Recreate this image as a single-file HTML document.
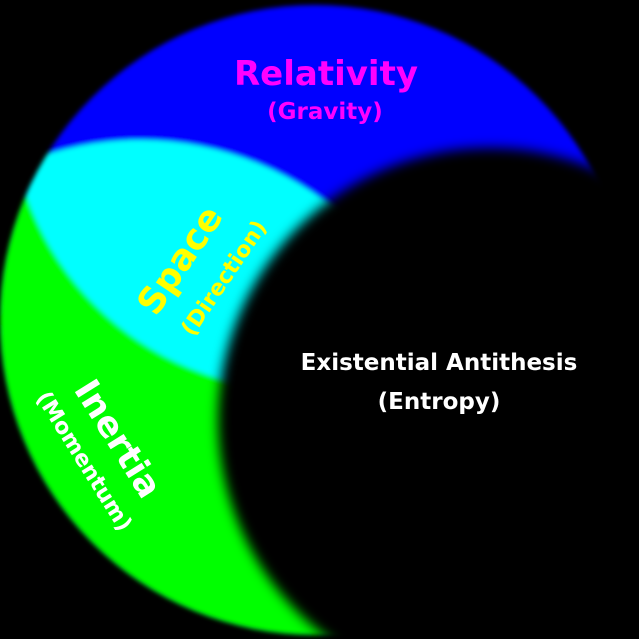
<!DOCTYPE html>
<html><head><style>html,body{margin:0;background:#000;overflow:hidden;width:639px;height:639px}svg{display:block}</style></head><body>
<svg width="639" height="639" viewBox="0 0 639 639" xmlns="http://www.w3.org/2000/svg">
<defs>
<clipPath id="outer"><circle cx="315" cy="320" r="315"/></clipPath>
<clipPath id="c1"><circle cx="140" cy="450" r="310"/></clipPath>
<filter id="b" x="-20%" y="-20%" width="140%" height="140%"><feGaussianBlur stdDeviation="2.5"/></filter>
<filter id="b2" x="-20%" y="-20%" width="140%" height="140%"><feGaussianBlur stdDeviation="6"/></filter>
</defs>
<rect width="639" height="639" fill="#000"/>
<g filter="url(#b)">
<g clip-path="url(#outer)">
<rect width="639" height="639" fill="#0000ff"/>
<circle cx="140" cy="450" r="310" fill="#00ff00"/>
<g clip-path="url(#c1)"><circle cx="300" cy="100" r="290" fill="#00ffff"/></g>
</g>
</g>
<circle cx="490" cy="420" r="272" fill="#000" filter="url(#b2)"/>
<g font-family="'DejaVu Sans','Liberation Sans',sans-serif" font-weight="bold" text-anchor="middle">
<text x="326" y="85" font-size="34" fill="#ff00ff">Relativity</text>
<text x="325" y="119" font-size="23" fill="#ff00ff">(Gravity)</text>
<text x="439" y="370" font-size="23" fill="#fff">Existential Antithesis</text>
<text x="439" y="409" font-size="23" fill="#fff">(Entropy)</text>
<text transform="translate(190,267) rotate(-56)" font-size="36" fill="#ffff00">Space</text>
<text transform="translate(230,282) rotate(-56)" font-size="22" fill="#ffff00">(Direction)</text>
<text transform="translate(108,445) rotate(58)" font-size="35" fill="#fff">Inertia</text>
<text transform="translate(78,465) rotate(58)" font-size="22" fill="#fff">(Momentum)</text>
</g>
</svg>
</body></html>
